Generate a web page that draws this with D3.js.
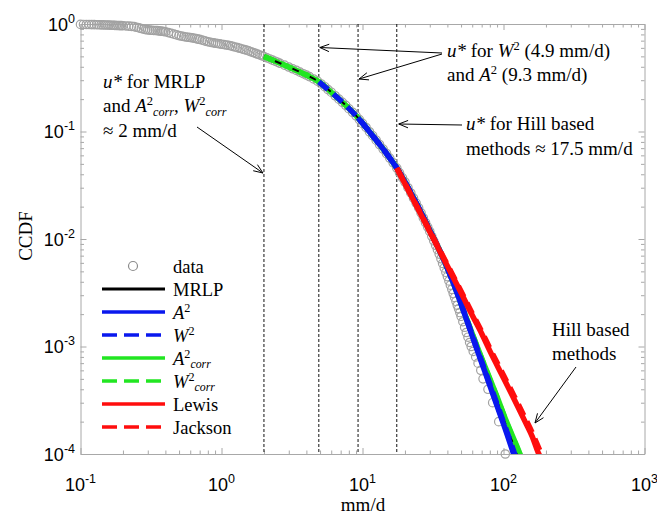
<!DOCTYPE html>
<html>
<head>
<meta charset="utf-8">
<script src="https://cdn.jsdelivr.net/npm/d3@7"></script>
<style>
  body { margin: 0; background: #fff; }
  text { white-space: pre; }
</style>
</head>
<body>
<svg id="chart" width="657" height="520"></svg>
<script>
// Empirical CCDF of daily rainfall (mm/d)
const dataX = [0.100,0.105,0.110,0.115,0.120,0.125,0.130,0.135,0.140,0.145,0.150,0.155,0.160,0.165,0.170,0.175,0.180,0.185,0.190,0.195,0.200,
  0.21,0.22,0.23,0.24,0.25,0.26,0.27,0.28,0.29,0.30,0.31,0.32,0.33,0.34,0.35,0.36,0.37,0.38,0.39,0.40,
  0.42,0.44,0.46,0.48,0.50,0.52,0.54,0.56,0.58,0.60,0.62,0.64,0.66,0.68,0.70,0.73,0.76,0.79,0.82,0.85,0.88,0.91,0.94,0.97,1.00,
  1.04,1.08,1.12,1.16,1.20,1.25,1.30,1.35,1.40,1.45,1.50,1.56,1.62,1.68,1.74,1.80,1.87,1.94,2.00,
  2.1,2.2,2.3,2.4,2.5,2.6,2.8,3.0,3.2,3.4,3.6,3.8,4.0,4.2,4.5,4.8,5.1,5.4,5.7,6.0,6.4,6.8,7.2,7.6,8.0,8.5,9.0,9.5,10,10.6,11.2,11.8,12.5,13.2,14,14.8,15.6,16.5,17.5,
  18.3,19.2,20,21,22,23,24,25,26,27,28,29,30,31,32,33,34,35,36,37,38,39,40,41,42,43,44,45,46,47,48,49,50,51.5,53,54.5,56,57.5,59,61,63.5,66,69,71.6,77.6,83.8,92.5,103];
const dataY = [0.991,0.990,0.989,0.988,0.987,0.986,0.985,0.984,0.982,0.981,0.979,0.978,0.977,0.975,0.973,0.971,0.968,0.968,0.966,0.966,0.964,
  0.959,0.955,0.951,0.946,0.933,0.920,0.908,0.895,0.887,0.881,0.877,0.875,0.871,0.869,0.867,0.863,0.859,0.855,0.851,0.847,
  0.832,0.818,0.805,0.792,0.780,0.771,0.764,0.757,0.752,0.748,0.743,0.738,0.731,0.724,0.719,0.708,0.697,0.687,0.679,0.673,0.667,0.662,0.658,0.653,0.649,
  0.644,0.638,0.634,0.627,0.619,0.611,0.603,0.594,0.586,0.579,0.571,0.562,0.552,0.543,0.533,0.525,0.515,0.506,0.499,
  0.485,0.473,0.461,0.451,0.441,0.431,0.414,0.398,0.383,0.370,0.357,0.345,0.335,0.324,0.308,0.294,0.277,0.261,0.245,0.232,0.215,0.200,0.187,0.175,0.163,0.151,0.140,0.129,0.119,0.109,0.0995,0.0914,0.0830,0.0757,0.0686,0.0624,0.0566,0.0512,0.0457,
  0.0413,0.0371,0.0339,0.0300,0.0268,0.0240,0.0216,0.0195,0.0175,0.0157,0.0142,0.0129,0.01175,0.0106,0.00961,0.00873,0.00795,0.00724,0.00655,0.00593,0.00538,0.00490,0.00447,0.00407,0.00372,0.00340,0.00311,0.00286,0.00263,0.00242,0.00224,0.00207,0.00191,0.00170,0.00151,0.00135,0.00122,0.00109,0.0010,0.0009,0.0008,0.0007,0.0006,0.0005,0.0004,0.0003,0.0002,0.0001];

// Fitted GPD tails: [value (mm/d), CCDF]
const mrlp = [[2,.499],[3,.398],[4,.335],[4.9,.290],[6,.232],[7.5,.178],[9.3,.134],[12,.089],[15,.061],[17.5,.0457],[20,.0339],[25,.0195],[30,.0120],[37,.0068],[45,.00364],[55,.00178],[65,.00098],[75,.00059],[90,.00031],[105,.000178],[124,.0001],[130,.000082]];
const a2 = [[9.3,.134],[12,.089],[15,.061],[17.5,.0457],[20,.0339],[25,.0195],[30,.0120],[37,.0068],[45,.00363],[55,.00174],[65,.00093],[75,.00055],[90,.00028],[105,.000158],[118,.0001],[124,.000082]];
const w2 = [[4.9,.290],[6,.232],[7.5,.178],[9.3,.134],[12,.089],[15,.061],[17.5,.0457],[20,.0339],[25,.0195],[30,.0120],[37,.0068],[45,.00366],[55,.00177],[65,.00095],[75,.000565],[90,.00029],[105,.000165],[120,.0001],[126,.000082]];
const a2corr = [[2,.499],[3,.398],[4,.335],[4.9,.290],[6,.232],[7.5,.178],[9.3,.134],[12,.089],[15,.061],[17.5,.0457],[20,.0339],[25,.0195],[30,.0120],[37,.0068],[45,.00365],[55,.00178],[65,.0010],[75,.00062],[90,.00034],[105,.0002],[120,.000132],[131,.0001],[137,.000087]];
const w2corr = [[2,.499],[3,.398],[4,.335],[4.9,.290],[6,.232],[7.5,.178],[9.3,.134],[12,.089],[15,.061],[17.5,.0457],[20,.0339],[25,.0195],[30,.0120],[37,.0068],[45,.00365],[55,.00178],[65,.00099],[75,.00061],[90,.000335],[105,.000197],[120,.000129],[130,.0001],[136,.000087]];
const lewis = [[17.5,.0457],[20,.0327],[25,.0186],[30,.0117],[40,.00562],[50,.00316],[60,.00195],[70,.00132],[80,.00091],[100,.00051],[120,.000316],[140,.000209],[160,.000145],[178,.0001],[190,.000085]];
const jackson = [[17.5,.0457],[20,.0328],[25,.0188],[30,.0119],[40,.00575],[50,.00327],[60,.00203],[70,.00138],[80,.00096],[100,.00054],[120,.000338],[140,.000225],[160,.000157],[186,.0001],[198,.000086]];

// Thresholds u* (mm/d)
const thresholds = [2, 4.9, 9.3, 17.5];

// Tick exponents
const xTickExps = [-1, 0, 1, 2, 3];
const yTickExps = [0, -1, -2, -3, -4];

const BLUE = "#0a18ee", GREEN = "#22e622", RED = "#ff0d0d", BLACK = "#000";
const SERIF = "'Liberation Serif', 'Times New Roman', serif";
const SANS = "'Liberation Sans', Arial, sans-serif";

const margin = { left: 80.5, right: 644.5, top: 24, bottom: 454 };
const svg = d3.select("#chart");
svg.append("rect").attr("width", 657).attr("height", 520).attr("fill", "#fff");

const x = d3.scaleLog().domain([0.1, 1000]).range([margin.left, margin.right]);
const y = d3.scaleLog().domain([1e-4, 1]).range([margin.bottom, margin.top]);

svg.append("clipPath").attr("id", "plotClip")
  .append("rect")
  .attr("x", margin.left).attr("y", margin.top)
  .attr("width", margin.right - margin.left).attr("height", margin.bottom - margin.top);

// Axes: box with inward major and minor ticks
const minorVals = (lo, hi) => {
  const v = [];
  for (let e = lo; e < hi; e++) for (let m = 2; m <= 9; m++) v.push(m * Math.pow(10, e));
  return v;
};
const xMajor = xTickExps.map(e => Math.pow(10, e));
const yMajor = yTickExps.map(e => Math.pow(10, e));
const xMinor = minorVals(-1, 3), yMinor = minorVals(-4, 0);
const AXIS = "#a8a8a8";

function styleAxis(g, keepDomain) {
  g.selectAll("line").attr("stroke", AXIS);
  g.select(".domain").attr("stroke", keepDomain ? AXIS : "none");
}
const axG = svg.append("g");
[[d3.axisBottom, 0, margin.bottom, x, xMajor, xMinor],
 [d3.axisTop, 0, margin.top, x, xMajor, xMinor],
 [d3.axisLeft, margin.left, 0, y, yMajor, yMinor],
 [d3.axisRight, margin.right, 0, y, yMajor, yMinor]].forEach(([fn, tx, ty, sc, maj, mnr]) => {
  axG.append("g").attr("transform", `translate(${tx},${ty})`)
    .call(fn(sc).tickValues(mnr).tickSize(-3.5).tickSizeOuter(0).tickFormat(""))
    .call(g => styleAxis(g, false));
  axG.append("g").attr("transform", `translate(${tx},${ty})`)
    .call(fn(sc).tickValues(maj).tickSize(-6).tickSizeOuter(0).tickFormat(""))
    .call(g => styleAxis(g, true));
});

// Tick labels 10^n
function powerLabel(px, py, e, anchor) {
  const t = svg.append("text").attr("x", px).attr("y", py)
    .attr("text-anchor", anchor).style("font-family", SANS).style("font-size", "18px").attr("fill", "#000");
  t.append("tspan").text("10");
  t.append("tspan").text(String(e)).attr("dy", -8).style("font-size", "12.5px");
}
xTickExps.forEach(e => powerLabel(x(Math.pow(10, e)), 491, e, "middle"));
yTickExps.forEach(e => powerLabel(75, y(Math.pow(10, e)) + 6.5, e, "end"));

// Axis titles
svg.append("text").attr("transform", "translate(32,236) rotate(-90)")
  .attr("text-anchor", "middle").style("font-family", SERIF).style("font-size", "19px").text("CCDF");
svg.append("text").attr("x", 363).attr("y", 511)
  .attr("text-anchor", "middle").style("font-family", SERIF).style("font-size", "19px").text("mm/d");

// Threshold markers
svg.append("g").selectAll("line").data(thresholds).join("line")
  .attr("x1", d => x(d)).attr("x2", d => x(d))
  .attr("y1", margin.top).attr("y2", margin.bottom)
  .attr("stroke", "#111").attr("stroke-width", 1).attr("stroke-dasharray", "3,2");

// Empirical points
const pts = dataX.map((v, i) => [v, dataY[i]]);
svg.append("g").selectAll("circle").data(pts).join("circle")
  .attr("cx", d => x(d[0])).attr("cy", d => y(d[1])).attr("r", 4.2)
  .attr("fill", "none").attr("stroke", "#a2a2a2").attr("stroke-width", 1.2);

// Fitted curves
const line = d3.line().x(d => x(d[0])).y(d => y(d[1])).curve(d3.curveMonotoneX);
const fits = [
  { d: a2corr, c: GREEN, w: 5.5, dash: null },
  { d: mrlp, c: BLACK, w: 2, dash: null },
  { d: w2corr, c: GREEN, w: 5.5, dash: "12,7" },
  { d: a2, c: BLUE, w: 5.5, dash: null },
  { d: w2, c: BLUE, w: 5.5, dash: "12,7" },
  { d: lewis, c: RED, w: 5.5, dash: null },
  { d: jackson, c: RED, w: 5.5, dash: "12,7" }
];
const fitG = svg.append("g").attr("clip-path", "url(#plotClip)");
fits.forEach(f => {
  fitG.append("path").attr("d", line(f.d)).attr("fill", "none")
    .attr("stroke", f.c).attr("stroke-width", f.w)
    .attr("stroke-dasharray", f.dash);
});

// Rich text helper: segments with italic / superscript / subscript
function rich(px, py, segs, size, anchor) {
  const t = svg.append("text").attr("x", px).attr("y", py)
    .attr("text-anchor", anchor || "start")
    .style("font-family", SERIF).style("font-size", size + "px").attr("fill", "#000");
  let shift = 0;
  segs.forEach(s => {
    const target = s.sup ? -0.36 * size : s.sub ? 0.2 * size : 0;
    const ts = t.append("tspan").text(s.t);
    if (target - shift !== 0) ts.attr("dy", target - shift);
    if (s.sup) ts.style("font-size", (size * 0.66) + "px");
    if (s.sub) ts.style("font-size", (size * 0.64) + "px");
    if (s.i) ts.style("font-style", "italic");
    shift = target;
  });
  return t;
}

// Legend
const legendItems = [
  { key: "data", label: [{ t: "data" }] },
  { key: "line", c: BLACK, w: 3, dash: null, label: [{ t: "MRLP" }] },
  { key: "line", c: BLUE, w: 3.5, dash: null, label: [{ t: "A", i: true }, { t: "2", sup: true }] },
  { key: "line", c: BLUE, w: 3.5, dash: "15,7", label: [{ t: "W", i: true }, { t: "2", sup: true }] },
  { key: "line", c: GREEN, w: 3.5, dash: null, label: [{ t: "A", i: true }, { t: "2", sup: true }, { t: "corr", sub: true, i: true }] },
  { key: "line", c: GREEN, w: 3.5, dash: "15,7", label: [{ t: "W", i: true }, { t: "2", sup: true }, { t: "corr", sub: true, i: true }] },
  { key: "line", c: RED, w: 3.5, dash: null, label: [{ t: "Lewis" }] },
  { key: "line", c: RED, w: 3.5, dash: "15,7", label: [{ t: "Jackson" }] }
];
legendItems.forEach((it, i) => {
  const ly = 266 + i * 23;
  if (it.key === "data") {
    svg.append("circle").attr("cx", 133).attr("cy", ly).attr("r", 4.5)
      .attr("fill", "none").attr("stroke", "#8c8c8c").attr("stroke-width", 1.2);
  } else {
    svg.append("line").attr("x1", 102).attr("x2", 165).attr("y1", ly).attr("y2", ly)
      .attr("stroke", it.c).attr("stroke-width", it.w).attr("stroke-dasharray", it.dash);
  }
  rich(173, ly + 6.5, it.label, 18.5);
});

// Annotations
rich(103, 88, [{ t: "u*", i: true }, { t: " for MRLP" }], 19);
rich(103, 112, [{ t: "and " }, { t: "A", i: true }, { t: "2", sup: true }, { t: "corr", sub: true, i: true }, { t: ", " }, { t: "W", i: true }, { t: "2", sup: true }, { t: "corr", sub: true, i: true }], 19);
rich(103, 137, [{ t: "\u2248 2 mm/d" }], 19);

rich(447, 57, [{ t: "u*", i: true }, { t: " for " }, { t: "W", i: true }, { t: "2", sup: true }, { t: " (4.9 mm/d)" }], 19);
rich(447, 81, [{ t: "and " }, { t: "A", i: true }, { t: "2", sup: true }, { t: " (9.3 mm/d)" }], 19);

rich(466, 130, [{ t: "u*", i: true }, { t: " for Hill based" }], 19);
rich(466, 155, [{ t: "methods \u2248 17.5 mm/d" }], 19);

rich(552, 336, [{ t: "Hill based" }], 19);
rich(552, 360, [{ t: "methods" }], 19);

// Arrows with open heads
function arrow(x1, y1, x2, y2) {
  const a = Math.atan2(y2 - y1, x2 - x1), L = 10, h = 0.38;
  const g = svg.append("g").attr("stroke", "#000").attr("stroke-width", 1).attr("fill", "none");
  g.append("line").attr("x1", x1).attr("y1", y1).attr("x2", x2).attr("y2", y2);
  g.append("path").attr("d",
    `M${x2 - L * Math.cos(a - h)},${y2 - L * Math.sin(a - h)}L${x2},${y2}L${x2 - L * Math.cos(a + h)},${y2 - L * Math.sin(a + h)}`);
}
arrow(197, 127, x(2) - 1, 173);
arrow(442, 53, x(4.9) + 1, 47.5);
arrow(442, 54, x(9.3) + 1, 79);
arrow(462, 125, x(17.5) + 2, 124);
arrow(576, 367, 535, 423);
</script>
</body>
</html>
